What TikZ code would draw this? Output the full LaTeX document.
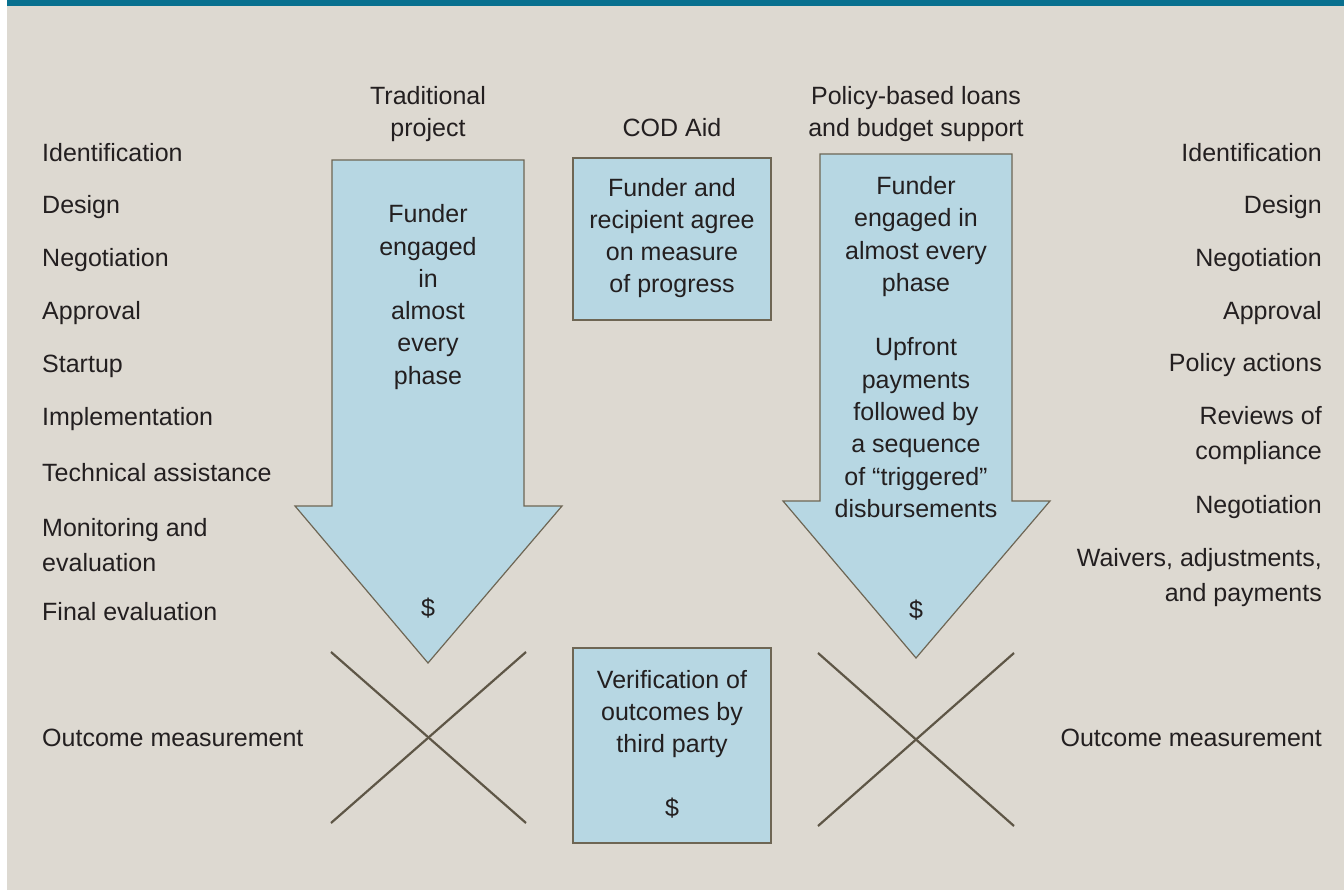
\documentclass[tikz,border=0pt]{standalone}
\usepackage{fontspec}
\setmainfont{Liberation Sans}
\usetikzlibrary{positioning}
\definecolor{bgbeige}{HTML}{DDD9D1}
\definecolor{barteal}{HTML}{08708F}
\definecolor{boxblue}{HTML}{B7D7E3}
\definecolor{edgegrey}{HTML}{6E6654}
\definecolor{crossgrey}{HTML}{5E5646}
\definecolor{inkblack}{HTML}{231F20}
\tikzset{stage label/.style={text=inkblack,font=\fontsize{25}{35}\selectfont,inner sep=0pt},
         left stage/.style={stage label,anchor=west,align=left},
         right stage/.style={stage label,anchor=east,align=right},
         box text/.style={text=inkblack,font=\fontsize{25}{32.3}\selectfont,align=center,inner sep=0pt},
         flow shape/.style={fill=boxblue,draw=edgegrey,line width=1.2pt},
         cross line/.style={draw=crossgrey,line width=2.2pt}
}

\begin{document}
\begin{tikzpicture}[x=1pt,y=-1pt]
\fill[white] (0,0) rectangle (1344,890);
\fill[bgbeige] (7,0) rectangle (1344,890);
\fill[barteal] (7,0) rectangle (1344,6);
\useasboundingbox (0,0) rectangle (1344,890);

% column heads
\node[box text] (trad head) at (428,114) {Traditional\\project};
\node[box text] (cod head) at (672,128) {COD Aid};
\node[box text] (policy head) at (916,114) {Policy-based loans\\and budget support};

% left arrow
\draw[flow shape] (332,160) -- (524,160) -- (524,506) -- (562,506) -- (428,663)
    -- (295,506) -- (332,506) -- cycle;
\node[box text] (trad text) at (428,297) {Funder\\engaged\\in\\almost\\every\\phase};
\node[box text] (trad pay) at (428,608) {\$};

% COD boxes
\draw[flow shape] (573,158) rectangle (771,320);
\node[box text] (cod text) at (672,238) {Funder and\\recipient agree\\on measure\\of progress};
\draw[flow shape] (573,648) rectangle (771,843);
\node[box text] (verify text) at (672,714) {Verification of\\outcomes by\\third party};
\node[box text] (cod pay) at (672,808) {\$};

% right arrow
\draw[flow shape] (820,154) -- (1012,154) -- (1012,501) -- (1050,501) -- (916,658)
    -- (783,501) -- (820,501) -- cycle;
\node[box text] (policy text) at (916,347) {Funder\\engaged in\\almost every\\phase\\[32.3pt]Upfront\\payments\\followed by\\a sequence\\of “triggered”\\disbursements};
\node[box text] (policy pay) at (916,610) {\$};

% crosses
\draw[cross line] (331,652) -- (526,823);
\draw[cross line] (526,652) -- (331,823);
\draw[cross line] (818,653) -- (1014,826);
\draw[cross line] (1014,653) -- (818,826);

% left stages
\node[left stage] (l ident) at (42,153) {Identification};
\node[left stage] (l design) at (42,207) {Design};
\node[left stage] (l negot) at (42,260) {Negotiation};
\node[left stage] (l approv) at (42,313) {Approval};
\node[left stage] (l start) at (42,366) {Startup};
\node[left stage] (l impl) at (42,419) {Implementation};
\node[left stage] (l tech) at (42,473) {Technical assistance};
\node[left stage] (l monit) at (42,545) {Monitoring and\\evaluation};
\node[left stage] (l final) at (42,612) {Final evaluation};
\node[left stage] (l outc) at (42,738) {Outcome measurement};

% right stages
\node[right stage] (r ident) at (1322,153) {Identification};
\node[right stage] (r design) at (1322,207) {Design};
\node[right stage] (r negot) at (1322,260) {Negotiation};
\node[right stage] (r approv) at (1322,313) {Approval};
\node[right stage] (r policy) at (1322,365) {Policy actions};
\node[right stage] (r review) at (1322,436) {Reviews of\\compliance};
\node[right stage] (r negot2) at (1322,507) {Negotiation};
\node[right stage] (r waive) at (1322,578) {Waivers, adjustments,\\and payments};
\node[right stage] (r outc) at (1322,738) {Outcome measurement};
\end{tikzpicture}
\end{document}
